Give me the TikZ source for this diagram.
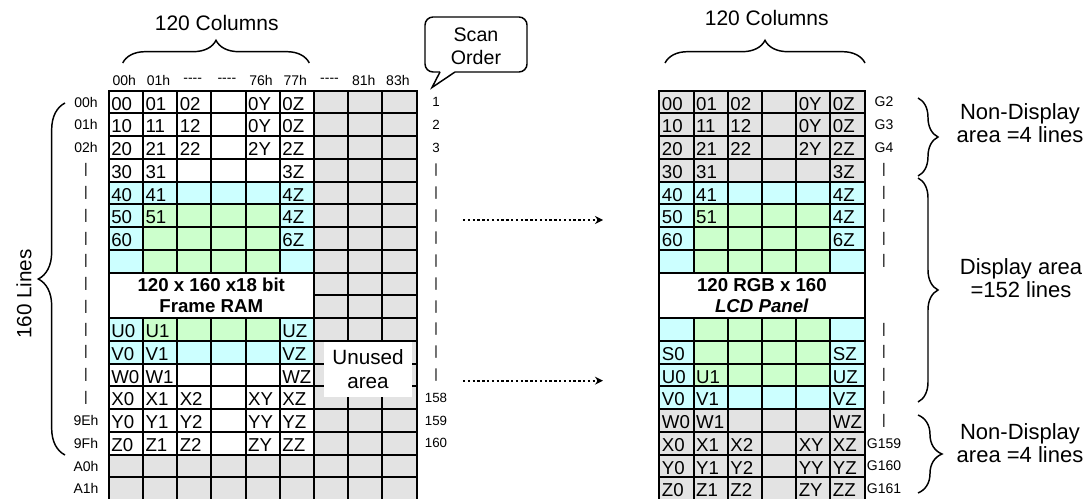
\documentclass[tikz,border=0pt]{standalone}
\usepackage{fontspec}
\setmainfont{Liberation Sans}
\usetikzlibrary{decorations.pathreplacing, positioning, arrows.meta}
\definecolor{cellW}{HTML}{FFFFFF}
\definecolor{cellC}{HTML}{CCFFFF}
\definecolor{cellG}{HTML}{CCFFCC}
\definecolor{cellK}{HTML}{E3E3E3}
\newcommand{\setfs}[2]{\fontsize{#1}{#2}\selectfont}
\newcommand{\hdash}{-{}-{}-{}-}

\begin{document}
\begin{tikzpicture}[
    x=0.75pt, y=-0.75pt,
    cell/.style={draw, line width=1.5pt, outer sep=0pt, inner xsep=2pt, inner ysep=0pt,
        minimum width=25.65pt, minimum height=17.06pt, text width=21.65pt, align=left,
        text height=12pt, text depth=0pt, font=\setfs{14}{16}},
    merged/.style={draw, fill=white, line width=1.5pt, outer sep=0pt, inner sep=0pt,
        minimum width=153.9pt, minimum height=34.12pt, align=center,
        font=\setfs{14}{16.3}\bfseries},
    lbl/.style={inner sep=0pt, font=\setfs{10.5}{12}},
    big/.style={inner sep=0pt, align=center, font=\setfs{16.5}{17.3}},
    curly/.style={decorate, decoration={brace, amplitude=#1}, line width=1.1pt},
    flow/.style={line width=1.5pt, dash pattern=on 1.8pt off 1.8pt,
        -{Stealth[length=6pt, width=6pt]}}
]
    \useasboundingbox (0,0) rectangle (1084,499);

    % left grid: frame RAM
    \foreach \r/\cells in {
        1/{W/00,W/01,W/02,W/,W/0Y,W/0Z},
        2/{W/10,W/11,W/12,W/,W/0Y,W/0Z},
        3/{W/20,W/21,W/22,W/,W/2Y,W/2Z},
        4/{W/30,W/31,W/,W/,W/,W/3Z},
        5/{C/40,C/41,C/,C/,C/,C/4Z},
        6/{C/50,G/51,G/,G/,G/,C/4Z},
        7/{C/60,G/,G/,G/,G/,C/6Z},
        8/{C/,G/,G/,G/,G/,C/},
        11/{C/U0,G/U1,G/,G/,G/,C/UZ},
        12/{C/V0,C/V1,C/,C/,C/,C/VZ},
        13/{W/W0,W/W1,W/,W/,W/,W/WZ},
        14/{W/X0,W/X1,W/X2,W/,W/XY,W/XZ},
        15/{W/Y0,W/Y1,W/Y2,W/,W/YY,W/YZ},
        16/{W/Z0,W/Z1,W/Z2,W/,W/ZY,W/ZZ}}
        \foreach \f/\t [count=\c] in \cells
            \node[cell, fill=cell\f] (L-\r-\c) at ({108.7+(\c-0.5)*34.2}, {90.7+(\r-0.5)*22.75}) {\t};
    \foreach \r in {1,...,18}
        \foreach \c in {7,8,9}
            \node[cell, fill=cellK] (L-\r-\c) at ({108.7+(\c-0.5)*34.2}, {90.7+(\r-0.5)*22.75}) {};
    \foreach \r in {17,18}
        \foreach \c in {1,...,6}
            \node[cell, fill=cellK] (L-\r-\c) at ({108.7+(\c-0.5)*34.2}, {90.7+(\r-0.5)*22.75}) {};
    \node[merged] (ram) at ({108.7+3*34.2}, {90.7+9*22.75}) {120 x 160 x18 bit\\Frame RAM};
    \node[big, fill=white, minimum width=66pt, minimum height=41pt, font=\setfs{15.5}{18}]
        (unused) at (368,369.5) {Unused\\area};

    % right grid: LCD panel
    \foreach \r/\cells in {
        1/{K/00,K/01,K/02,K/,K/0Y,K/0Z},
        2/{K/10,K/11,K/12,K/,K/0Y,K/0Z},
        3/{K/20,K/21,K/22,K/,K/2Y,K/2Z},
        4/{K/30,K/31,K/,K/,K/,K/3Z},
        5/{C/40,C/41,C/,C/,C/,C/4Z},
        6/{C/50,G/51,G/,G/,G/,C/4Z},
        7/{C/60,G/,G/,G/,G/,C/6Z},
        8/{C/,G/,G/,G/,G/,C/},
        11/{C/,G/,G/,G/,G/,C/},
        12/{C/S0,G/,G/,G/,G/,C/SZ},
        13/{C/U0,G/U1,G/,G/,G/,C/UZ},
        14/{C/V0,C/V1,C/,C/,C/,C/VZ},
        15/{K/W0,K/W1,K/,K/,K/,K/WZ},
        16/{K/X0,K/X1,K/X2,K/,K/XY,K/XZ},
        17/{K/Y0,K/Y1,K/Y2,K/,K/YY,K/YZ},
        18/{K/Z0,K/Z1,K/Z2,K/,K/ZY,K/ZZ}}
        \foreach \f/\t [count=\c] in \cells
            \node[cell, fill=cell\f] (R-\r-\c) at ({659.3+(\c-0.5)*34.2}, {90.7+(\r-0.5)*22.75}) {\t};
    \node[merged] (lcd) at ({659.3+3*34.2}, {90.7+9*22.75}) {120 RGB x 160\\\textit{LCD Panel}};

    % labels round the grids
    \foreach \c/\t in {1/00h,2/01h,3/\hdash,4/\hdash,5/76h,6/77h,7/\hdash,8/81h,9/83h}
        \node[lbl] (col-\c) at ({108.7+(\c-0.5)*34.2-1.5}, 80.7) {\t};
    \foreach \r/\t in {1/00h,2/01h,3/02h,4/|,5/|,6/|,7/|,8/|,9/|,10/|,11/|,12/|,13/|,14/|,
            15/9Eh,16/9Fh,17/A0h,18/A1h}
        \node[lbl] (row-\r) at (86, {90.7+(\r-0.5)*22.75}) {\t};
    \foreach \r/\t in {1/1,2/2,3/3,4/|,5/|,6/|,7/|,8/|,9/|,10/|,11/|,12/|,13/|,
            14/158,15/159,16/160}
        \node[lbl, font=\setfs{10}{12}] (order-\r) at (436, {90.7+(\r-0.5)*22.75}) {\t};
    \foreach \r/\t in {1/G2,2/G3,3/G4,4/|,5/|,6/|,7/|,8/|,11/|,12/|,13/|,14/|,15/|,
            16/G159,17/G160,18/G161}
        \node[lbl, font=\setfs{10.5}{12}] (gate-\r) at (884, {90.7+(\r-0.5)*22.75}) {\t};

    % scan order callout
    \node[align=center, font=\setfs{14.7}{17.3}] (scan) at (476,46.5) {Scan\\Order};
    \draw[line width=1.1pt, rounded corners=6pt] (440,72) -| (425,17) -| (527,72) -- (455,72);
    \draw[line width=1.1pt] (440,72) -- (432,87.5) -- (455,72);

    % braces
    \draw[curly=17pt] (122.7,63) -- (309.3,63);
    \node[big, font=\setfs{15.75}{18}] (colsL) at (216.7,22.5) {120 Columns};
    \draw[curly=17pt] (665,63) -- (865,63);
    \node[big, font=\setfs{15.75}{18}] (colsR) at (766.7,17.5) {120 Columns};
    \draw[curly=20pt] (65,455) -- (65,103);
    \node[big, font=\setfs{15.5}{18}, rotate=90] (lines) at (24,294) {160 Lines};
    \draw[curly=15pt] (918,98) -- (918,176);
    \node[big] (top4) at (1020,123.5) {Non-Display\\area =4 lines};
    \draw[curly=15pt] (918,178) -- (918,402);
    \node[big] (disp) at (1021,278.5) {Display area\\=152 lines};
    \draw[curly=18pt] (918,415) -- (918,493);
    \node[big] (bot4) at (1020,443.5) {Non-Display\\area =4 lines};

    % mapping arrows
    \coordinate (m1) at (463,220);
    \coordinate (p1) at (603,220);
    \coordinate (m2) at (463,380.7);
    \coordinate (p2) at (603,380.7);
    \draw[flow] (m1) -- (p1);
    \draw[flow] (m2) -- (p2);
\end{tikzpicture}
\end{document}
